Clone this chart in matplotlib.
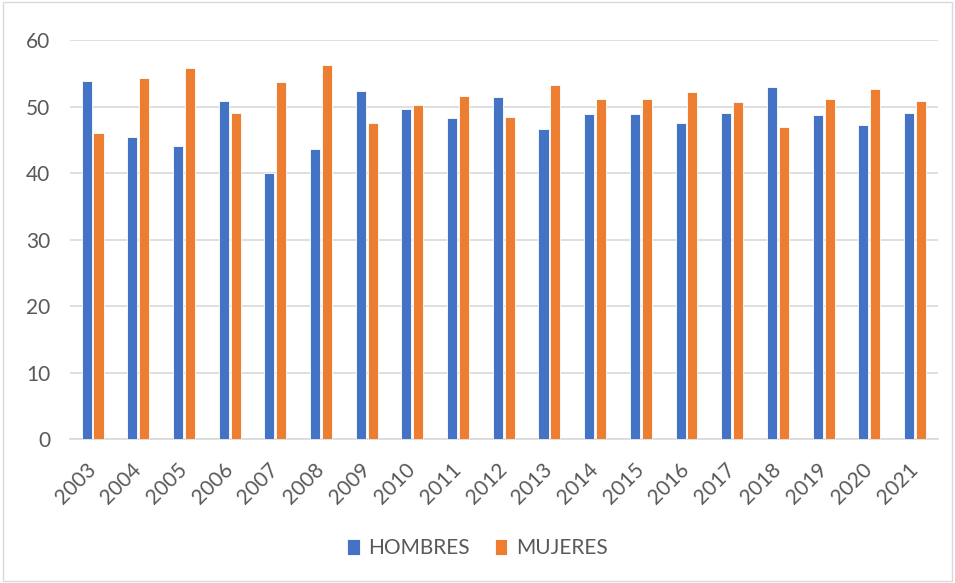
import matplotlib
matplotlib.use("Agg")
import matplotlib.pyplot as plt
import numpy as np
from matplotlib.patches import Rectangle

years = ["2003", "2004", "2005", "2006", "2007", "2008", "2009", "2010", "2011", "2012",
         "2013", "2014", "2015", "2016", "2017", "2018", "2019", "2020", "2021"]
hombres = [53.8, 45.4, 44.1, 50.8, 40.0, 43.7, 52.4, 49.7, 48.3, 51.4,
           46.6, 48.9, 48.9, 47.6, 49.1, 52.9, 48.7, 47.3, 49.1]
mujeres = [46.0, 54.3, 55.8, 49.1, 53.7, 56.2, 47.6, 50.3, 51.6, 48.5,
           53.2, 51.1, 51.1, 52.2, 50.7, 47.0, 51.1, 52.6, 50.8]
yticks = [0, 10, 20, 30, 40, 50, 60]

plt.rcParams['font.family'] = ["Lato", "DejaVu Sans"]

text_col = "#595959"
fig = plt.figure(figsize=(9.55, 5.83), dpi=100)
ax = fig.add_axes([0.073, 0.247, 0.909, 0.684])

x = np.arange(len(years))
w = 0.22
off = 0.13
ax.bar(x - off, hombres, w, color="#4472C4", edgecolor="white", linewidth=0.6, label="HOMBRES", zorder=3)
ax.bar(x + off, mujeres, w, color="#ED7D31", edgecolor="white", linewidth=0.6, label="MUJERES", zorder=3)

ax.set_xlim(-0.5, len(years) - 0.5)
ax.set_ylim(0, 60)
ax.set_yticks(yticks)
ax.set_yticklabels([str(v) for v in yticks], fontsize=15, color=text_col)
ax.set_xticks(x)
ax.set_xticklabels(years, rotation=45, ha="right", va="center", rotation_mode="anchor",
                   fontsize=15, color=text_col)
ax.tick_params(axis="both", length=0)
ax.tick_params(axis="y", pad=14)
ax.tick_params(axis="x", pad=20)
ax.yaxis.grid(True, color="#D9D9D9", linewidth=1.2, zorder=0)
for s in ["top", "right", "left"]:
    ax.spines[s].set_visible(False)
ax.spines["bottom"].set_color("#D9D9D9")
ax.spines["bottom"].set_linewidth(1.2)

leg = fig.legend(loc="center", bbox_to_anchor=(0.5, 0.06), ncol=2, frameon=False,
                 fontsize=15, handlelength=0.6, handleheight=0.8, columnspacing=1.2, handletextpad=0.4)
for t in leg.get_texts():
    t.set_color(text_col)

fig.patches.append(Rectangle((0.003, 0.003), 0.994, 0.994, transform=fig.transFigure,
                             fill=False, edgecolor="#D9D9D9", linewidth=1))

fig.savefig("out.png", dpi=100)
